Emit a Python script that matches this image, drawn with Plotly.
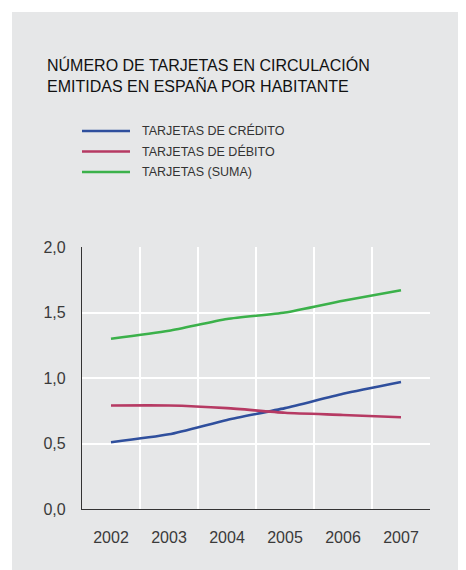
import plotly.graph_objects as go

years = ["2002", "2003", "2004", "2005", "2006", "2007"]
credito = [0.51, 0.57, 0.68, 0.77, 0.88, 0.97]
debito = [0.79, 0.79, 0.77, 0.735, 0.718, 0.70]
suma = [1.30, 1.36, 1.45, 1.50, 1.59, 1.67]
series_names = ["TARJETAS DE CRÉDITO", "TARJETAS DE DÉBITO", "TARJETAS (SUMA)"]
colors = ["#2f4f9d", "#b63a63", "#3bb14a"]
y_ticks = [0.0, 0.5, 1.0, 1.5, 2.0]

BG = "#e6e7e8"
FONT = "Liberation Sans, Arial, sans-serif"

fig = go.Figure()
for name, vals, col in zip(series_names, [credito, debito, suma], colors):
    fig.add_trace(go.Scatter(x=years, y=vals, mode="lines", name=name,
                             line=dict(color=col, width=2.6, shape="spline", smoothing=0.6),
                             showlegend=False, hoverinfo="skip"))

OFF = 8  # default body margin of the html page
W, H = 466 - OFF, 570 - OFF
L, R, T, B = 82 - OFF, 36, 247 - OFF, 61
pw, ph = W - L - R, H - T - B

def px(x):
    return (x - OFF - L) / pw

def py(y):
    return (H - B - (y - OFF)) / ph

shapes = [dict(type="rect", xref="paper", yref="paper", x0=px(12), x1=px(480),
               y0=py(590), y1=py(12), fillcolor=BG, line=dict(width=0), layer="below")]
annotations = [dict(xref="paper", yref="paper", x=px(45), y=py(75), xanchor="left", yanchor="middle",
                    align="left", showarrow=False,
                    text="NÚMERO DE TARJETAS EN CIRCULACIÓN<br>EMITIDAS EN ESPAÑA POR HABITANTE",
                    font=dict(family=FONT, size=16, color="#111111"))]
for i, (name, col) in enumerate(zip(series_names, colors)):
    yy = 131 + i * 20.5
    shapes.append(dict(type="line", xref="paper", yref="paper", x0=px(82), x1=px(130),
                       y0=py(yy), y1=py(yy), line=dict(color=col, width=2.6)))
    annotations.append(dict(xref="paper", yref="paper", x=px(140), y=py(yy), xanchor="left",
                            yanchor="middle", showarrow=False, text=name,
                            font=dict(family=FONT, size=12.5, color="#333333")))

fig.update_layout(
    width=W, height=H, margin=dict(l=L, r=R, t=T, b=B),
    paper_bgcolor="white", plot_bgcolor=BG,
    separators=",.",
    shapes=shapes, annotations=annotations,
    xaxis=dict(type="category", tickson="boundaries", showgrid=True, gridcolor="white", gridwidth=2,
               showline=True, linecolor="#333333", linewidth=1.2, ticks="",
               tickfont=dict(family=FONT, size=16, color="#3a3a3a"), ticklabelstandoff=14,
               range=[-0.5, 5.5], fixedrange=True),
    yaxis=dict(range=[0, 2], tickvals=y_ticks, tickformat=".1f", showgrid=True, gridcolor="white",
               gridwidth=2, zeroline=False, showline=True, linecolor="#333333", linewidth=1.2,
               ticks="", tickfont=dict(family=FONT, size=16, color="#3a3a3a"), ticklabelstandoff=12,
               fixedrange=True),
)

fig.write_html("out.html")
